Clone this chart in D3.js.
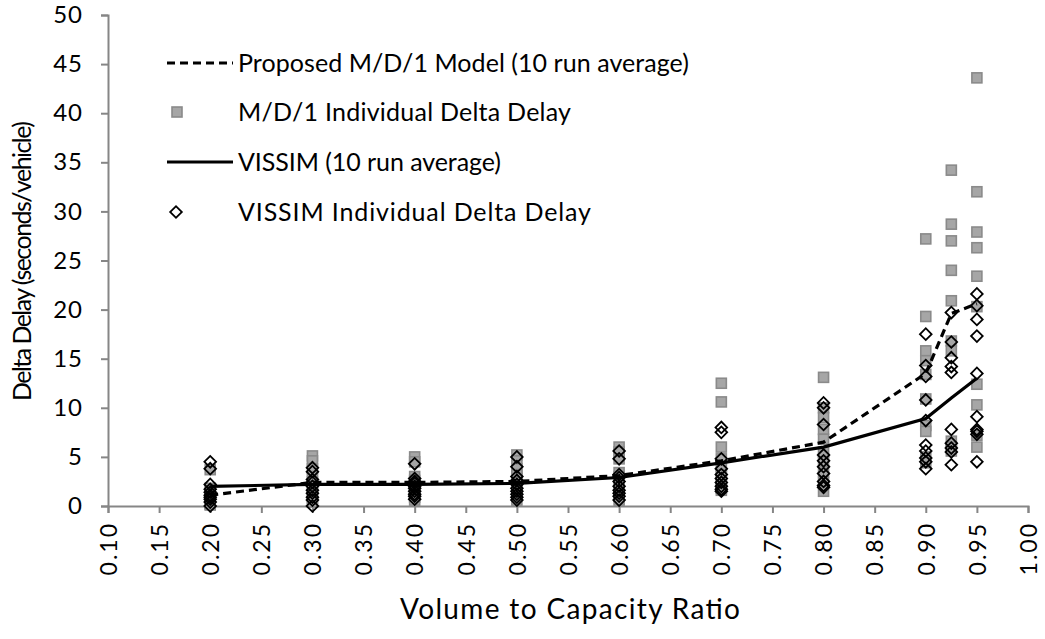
<!DOCTYPE html>
<html>
<head>
<meta charset="utf-8">
<script src="https://cdn.jsdelivr.net/npm/d3@7"></script>
<style>
  html, body { margin: 0; padding: 0; background: #fff; }
  svg { display: block; font-family: Lato, "Liberation Sans", sans-serif; }
</style>
</head>
<body>
<svg id="chart" width="1045" height="639"></svg>
<script>
// Volume-to-capacity ratios at which the runs were made
const vcRatios = [0.2, 0.3, 0.4, 0.5, 0.6, 0.7, 0.8, 0.9, 0.925, 0.95];

// Ten individual run results per ratio (seconds/vehicle)
const md1Runs = [
  [3.7, 1.8, 1.5, 1.2, 0.9, 0.7, 0.5, 0.3, 0.2, 0.1],
  [5.1, 4.6, 3.8, 3.0, 2.5, 2.1, 1.7, 1.2, 0.8, 0.4],
  [5.0, 4.5, 3.0, 2.6, 2.2, 1.9, 1.5, 1.2, 0.9, 0.6],
  [5.2, 4.6, 3.8, 3.2, 2.8, 2.4, 2.0, 1.5, 1.1, 0.6],
  [6.0, 5.5, 4.8, 3.4, 3.0, 2.6, 2.0, 1.5, 1.0, 0.6],
  [12.5, 10.6, 6.0, 4.8, 4.0, 3.2, 2.6, 2.1, 1.8, 1.6],
  [13.1, 10.0, 9.0, 7.8, 6.8, 5.5, 4.5, 3.5, 2.4, 1.5],
  [27.2, 19.3, 15.8, 14.8, 13.4, 10.9, 8.2, 7.6, 5.0, 4.4],
  [34.2, 28.7, 27.0, 24.0, 20.9, 16.8, 15.8, 6.6, 6.0, 5.6],
  [43.6, 32.0, 27.9, 26.3, 23.4, 20.3, 12.4, 10.3, 7.2, 6.0]
];
const vissimRuns = [
  [4.5, 3.8, 2.2, 1.7, 1.4, 1.1, 0.9, 0.7, 0.4, 0.0],
  [3.9, 3.5, 2.7, 2.4, 2.0, 1.6, 1.3, 0.9, 0.6, 0.0],
  [4.3, 2.8, 2.5, 2.3, 2.0, 1.8, 1.5, 1.2, 1.0, 0.7],
  [5.0, 4.0, 3.0, 2.6, 2.2, 1.8, 1.5, 1.2, 0.9, 0.6],
  [5.6, 4.8, 3.2, 2.9, 2.5, 2.0, 1.6, 1.3, 1.0, 0.6],
  [8.0, 7.5, 4.8, 3.8, 3.2, 2.8, 2.4, 2.0, 1.7, 1.5],
  [10.5, 10.0, 8.3, 5.2, 4.6, 4.0, 3.3, 2.5, 2.1, 1.9],
  [17.5, 14.3, 13.2, 10.8, 8.7, 6.2, 5.6, 4.9, 4.5, 3.8],
  [19.7, 16.7, 15.1, 14.2, 13.6, 7.8, 6.4, 5.9, 5.5, 4.2],
  [21.6, 20.4, 19.0, 17.3, 13.5, 9.1, 7.8, 7.6, 7.3, 4.5]
];

// 10-run averages
const md1Average    = [1.1, 2.4, 2.4, 2.5, 3.1, 4.6, 6.5, 13.5, 19.6, 20.6];
const vissimAverage = [2.0, 2.2, 2.2, 2.3, 2.9, 4.4, 6.0, 8.9, 11.0, 13.0];

// Axis ticks
const xTicks = [0.10, 0.15, 0.20, 0.25, 0.30, 0.35, 0.40, 0.45, 0.50, 0.55,
                0.60, 0.65, 0.70, 0.75, 0.80, 0.85, 0.90, 0.95, 1.00];
const yTicks = [0, 5, 10, 15, 20, 25, 30, 35, 40, 45, 50];

const legendLabels = [
  "Proposed M/D/1 Model (10 run average)",
  "M/D/1 Individual Delta Delay",
  "VISSIM (10 run average)",
  "VISSIM Individual Delta Delay"
];

const svg = d3.select("#chart");
const plot = { left: 108, right: 1028, top: 15, bottom: 506 };

const x = d3.scaleLinear().domain([0.1, 1.0]).range([plot.left, plot.right]);
const y = d3.scaleLinear().domain([0, 50]).range([plot.bottom, plot.top]);

const axisColor = "#868686";

// Y axis
const yAxis = svg.append("g")
  .attr("transform", `translate(${plot.left},0)`)
  .call(d3.axisLeft(y).tickValues(yTicks).tickSize(7).tickPadding(18).tickFormat(d3.format("d")));
// X axis
const xAxis = svg.append("g")
  .attr("transform", `translate(0,${plot.bottom})`)
  .call(d3.axisBottom(x).tickValues(xTicks).tickSize(7).tickFormat(d3.format(".2f")));

[yAxis, xAxis].forEach(g => {
  g.attr("font-family", null).attr("font-size", null);
  g.select(".domain").attr("stroke", axisColor).attr("stroke-width", 2);
  g.selectAll(".tick line").attr("stroke", axisColor).attr("stroke-width", 2);
  g.selectAll("text").attr("fill", "#000");
});
yAxis.selectAll("text").style("font-size", "24px").style("letter-spacing", "1px");
xAxis.selectAll("text")
  .style("font-size", "23px")
  .style("letter-spacing", "2px")
  .attr("text-anchor", "end")
  .attr("transform", "translate(0,16) rotate(-90)")
  .attr("x", 0).attr("y", 0).attr("dy", "0.36em");

// Individual M/D/1 runs (grey squares)
const md1Points = vcRatios.flatMap((v, i) => md1Runs[i].map(d => ({ v, d })));
const vissimPoints = vcRatios.flatMap((v, i) => vissimRuns[i].map(d => ({ v, d })));
const sq = 10;
svg.append("g").selectAll("rect").data(md1Points).join("rect")
  .attr("x", p => x(p.v) - sq / 2).attr("y", p => y(p.d) - sq / 2)
  .attr("width", sq).attr("height", sq)
  .attr("fill", "#a6a6a6").attr("stroke", "#8a8a8a").attr("stroke-width", 1.6);

// Average lines
const line = d3.line().x((d, i) => x(vcRatios[i])).y(d => y(d));
svg.append("path").datum(md1Average).attr("d", line)
  .attr("fill", "none").attr("stroke", "#000").attr("stroke-width", 3.2)
  .attr("stroke-dasharray", "8,5");
svg.append("path").datum(vissimAverage).attr("d", line)
  .attr("fill", "none").attr("stroke", "#000").attr("stroke-width", 3.2);

// Individual VISSIM runs (open diamonds)
const diamond = d3.symbol().type(d3.symbolSquare).size(68);
svg.append("g").selectAll("path").data(vissimPoints).join("path")
  .attr("d", diamond)
  .attr("transform", p => `translate(${x(p.v)},${y(p.d)}) rotate(45)`)
  .attr("fill", "none").attr("stroke", "#000").attr("stroke-width", 1.8);

// Legend
const legend = svg.append("g");
const rowY = [63, 112, 162, 212];
const textLen = [451, 333, 263, 353];
legend.append("line").attr("x1", 167).attr("x2", 233).attr("y1", rowY[0]).attr("y2", rowY[0])
  .attr("stroke", "#000").attr("stroke-width", 3.2).attr("stroke-dasharray", "8,5");
legend.append("rect").attr("x", 177 - sq / 2).attr("y", rowY[1] - sq / 2)
  .attr("width", sq).attr("height", sq)
  .attr("fill", "#a6a6a6").attr("stroke", "#8a8a8a").attr("stroke-width", 1.6);
legend.append("line").attr("x1", 167).attr("x2", 233).attr("y1", rowY[2]).attr("y2", rowY[2])
  .attr("stroke", "#000").attr("stroke-width", 3.2);
legend.append("path").attr("d", diamond)
  .attr("transform", `translate(176,${rowY[3]}) rotate(45)`)
  .attr("fill", "none").attr("stroke", "#000").attr("stroke-width", 1.8);
legend.selectAll("text").data(legendLabels).join("text")
  .attr("x", 238).attr("y", (d, i) => rowY[i]).attr("dy", "0.36em")
  .style("font-size", "25px").attr("fill", "#000")
  .attr("textLength", (d, i) => textLen[i]).attr("lengthAdjust", "spacing")
  .text(d => d);

// Axis titles
svg.append("text")
  .attr("x", 570).attr("y", 619)
  .attr("text-anchor", "middle").style("font-size", "28px")
  .attr("textLength", 340).attr("lengthAdjust", "spacing")
  .text("Volume to Capacity Ratio");
svg.append("text")
  .attr("transform", "translate(31,261) rotate(-90)")
  .attr("text-anchor", "middle").style("font-size", "25px")
  .attr("textLength", 280).attr("lengthAdjust", "spacing")
  .text("Delta Delay (seconds/vehicle)");
</script>
</body>
</html>
